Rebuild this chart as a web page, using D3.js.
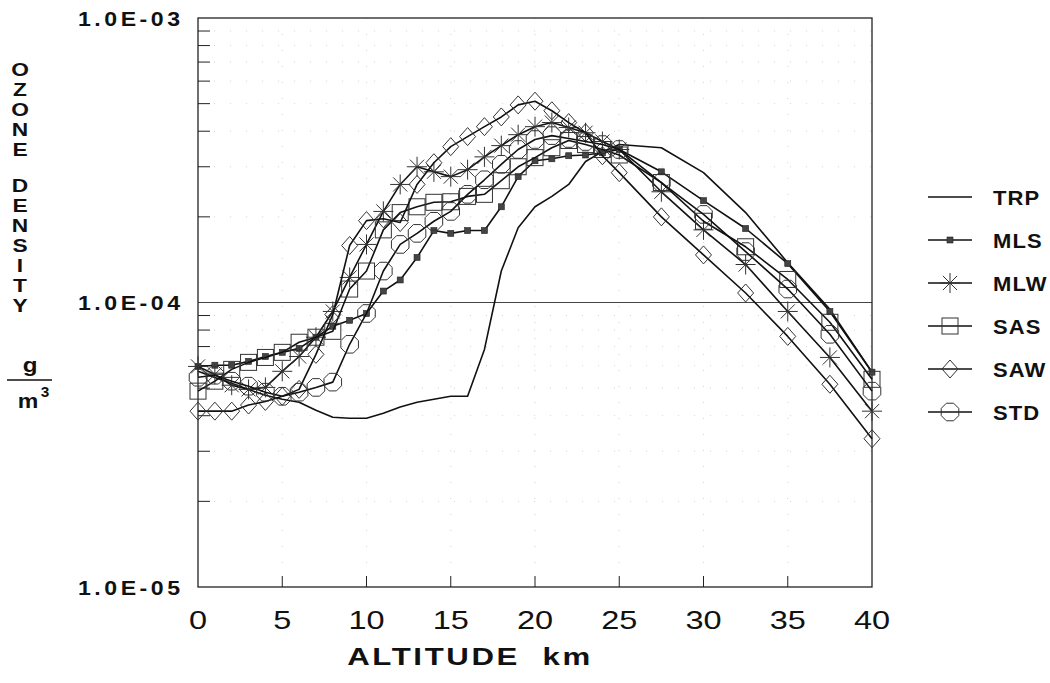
<!DOCTYPE html>
<html>
<head>
<script src="https://d3js.org/d3.v7.min.js"></script>
<style>
  body { margin: 0; background: #fff; }
  text { font-family: "Liberation Sans", Arial, sans-serif; fill: #111; }
</style>
</head>
<body>
<svg id="chart" width="1050" height="683"></svg>
<script>
// altitude grid (km) shared by every profile
const altitude = [0,1,2,3,4,5,6,7,8,9,10,11,12,13,14,15,16,17,18,19,20,21,22,23,24,25,27.5,30,32.5,35,37.5,40];

// ozone density, g/m3
const trp = [5.73e-5,5.45e-5,5.2e-5,4.95e-5,4.72e-5,4.57e-5,4.46e-5,4.18e-5,3.95e-5,3.92e-5,3.92e-5,4.08e-5,4.29e-5,4.46e-5,4.57e-5,4.68e-5,4.68e-5,6.84e-5,1.29e-4,1.83e-4,2.17e-4,2.36e-4,2.6e-4,3.13e-4,3.39e-4,3.59e-4,3.5e-4,2.86e-4,2.07e-4,1.38e-4,9.46e-5,5.69e-5];
const mls = [5.96e-5,6.02e-5,6.02e-5,6.21e-5,6.46e-5,6.68e-5,6.9e-5,7.55e-5,8.25e-5,8.66e-5,9.15e-5,1.097e-4,1.2e-4,1.44e-4,1.79e-4,1.75e-4,1.79e-4,1.79e-4,2.17e-4,2.77e-4,3.15e-4,3.2e-4,3.28e-4,3.3e-4,3.36e-4,3.45e-4,2.88e-4,2.28e-4,1.82e-4,1.37e-4,9.3e-5,5.69e-5];
const mlw = [5.96e-5,5.59e-5,5.12e-5,4.95e-5,5.03e-5,5.73e-5,6.46e-5,7.55e-5,9.3e-5,1.225e-4,1.6e-4,2.09e-4,2.6e-4,3.0e-4,2.88e-4,2.77e-4,2.93e-4,3.25e-4,3.56e-4,3.89e-4,4.15e-4,4.29e-4,4.12e-4,3.95e-4,3.68e-4,3.45e-4,2.45e-4,1.8e-4,1.36e-4,9.3e-5,6.41e-5,4.15e-5];
const sas = [4.88e-5,5.29e-5,5.82e-5,6.16e-5,6.41e-5,6.68e-5,7.25e-5,7.55e-5,7.92e-5,1.115e-4,1.29e-4,1.8e-4,2.07e-4,2.17e-4,2.25e-4,2.26e-4,2.36e-4,2.4e-4,2.68e-4,3.0e-4,3.23e-4,3.5e-4,3.71e-4,3.59e-4,3.45e-4,3.3e-4,2.64e-4,1.93e-4,1.57e-4,1.205e-4,8.52e-5,5.37e-5];
const saw = [4.15e-5,4.15e-5,4.15e-5,4.36e-5,4.49e-5,4.68e-5,4.95e-5,6.57e-5,9.07e-5,1.586e-4,1.94e-4,1.97e-4,1.91e-4,2.6e-4,3.1e-4,3.53e-4,3.83e-4,4.15e-4,4.49e-4,4.95e-4,5.1e-4,4.72e-4,4.29e-4,3.95e-4,3.28e-4,2.86e-4,2.0e-4,1.47e-4,1.08e-4,7.6e-5,5.16e-5,3.32e-5];
const std = [5.46e-5,5.55e-5,5.29e-5,5.08e-5,4.84e-5,4.68e-5,4.84e-5,5.03e-5,5.25e-5,7.13e-5,9.15e-5,1.29e-4,1.6e-4,1.75e-4,1.93e-4,2.09e-4,2.4e-4,2.7e-4,3.06e-4,3.45e-4,3.74e-4,3.86e-4,3.77e-4,3.68e-4,3.59e-4,3.45e-4,2.64e-4,2.04e-4,1.51e-4,1.115e-4,7.73e-5,4.88e-5];

const seriesNames = ["TRP", "MLS", "MLW", "SAS", "SAW", "STD"];
const seriesMarkers = ["none", "dot", "star", "square", "diamond", "octagon"];
const seriesValues = [trp, mls, mlw, sas, saw, std];

const xTicks = [0, 5, 10, 15, 20, 25, 30, 35, 40];
const yTicks = [1e-5, 1e-4, 1e-3];
const yTickLabels = ["1.0E-05", "1.0E-04", "1.0E-03"];

const svg = d3.select("#chart");
const plotLeft = 198, plotRight = 872, plotTop = 18, plotBottom = 587;

const x = d3.scaleLinear().domain([0, 40]).range([plotLeft, plotRight]);
const y = d3.scaleLog().domain([1e-5, 1e-3]).range([plotBottom, plotTop]);

// faint dotted grid
const minor = [];
[1e-5, 1e-4].forEach(d => { for (let k = 2; k <= 9; k++) minor.push(d * k); });
svg.append("g").selectAll("line").data(minor).join("line")
  .attr("x1", plotLeft).attr("x2", plotRight)
  .attr("y1", d => y(d)).attr("y2", d => y(d))
  .attr("stroke", "#d4d4d4").attr("stroke-width", 1)
  .attr("stroke-dasharray", "1,15");
svg.append("g").selectAll("line").data(xTicks.slice(1, -1)).join("line")
  .attr("x1", d => x(d)).attr("x2", d => x(d))
  .attr("y1", plotTop).attr("y2", plotBottom)
  .attr("stroke", "#d4d4d4").attr("stroke-width", 1)
  .attr("stroke-dasharray", "1,15");

// 1E-04 reference line
svg.append("line")
  .attr("x1", plotLeft).attr("x2", plotRight)
  .attr("y1", y(1e-4)).attr("y2", y(1e-4))
  .attr("stroke", "#444").attr("stroke-width", 1.2);

// frame
svg.append("rect")
  .attr("x", plotLeft).attr("y", plotTop)
  .attr("width", plotRight - plotLeft).attr("height", plotBottom - plotTop)
  .attr("fill", "none").attr("stroke", "#222").attr("stroke-width", 1.3);

// left minor ticks, bottom ticks
svg.append("g").selectAll("line").data(minor).join("line")
  .attr("x1", plotLeft).attr("x2", plotLeft + 12)
  .attr("y1", d => y(d)).attr("y2", d => y(d))
  .attr("stroke", "#222").attr("stroke-width", 1);
svg.append("g").selectAll("line").data(xTicks.slice(1, -1)).join("line")
  .attr("x1", d => x(d)).attr("x2", d => x(d))
  .attr("y1", plotBottom).attr("y2", plotBottom - 11)
  .attr("stroke", "#222").attr("stroke-width", 1);

function stretched(str, px, py, size, sx, anchor, weight) {
  return svg.append("text")
    .attr("transform", `translate(${px},${py}) scale(${sx},1)`)
    .attr("text-anchor", anchor || "middle")
    .attr("font-size", size)
    .attr("font-weight", weight || "normal")
    .text(str);
}

// tick labels
xTicks.forEach(d => stretched(String(d), x(d), 629, 25, 1.3, "middle"));
yTicks.forEach((d, i) => {
  stretched(yTickLabels[i], 78, y(d) + 7.5, 21, 1.1, "start", "bold")
    .attr("letter-spacing", 3.2);
});

// axis titles
stretched("ALTITUDE  km", 470, 665, 24, 1.3, "middle", "bold").attr("letter-spacing", 2).style("white-space", "pre");
const titleLetters = "OZONE DENSITY".split("");
let ty = 76;
titleLetters.forEach(c => {
  if (c === " ") { ty += 16; return; }
  stretched(c, 20, ty, 17.5, 1.3, "middle", "bold");
  ty += 20;
});
stretched("g", 30, 372, 21, 1.15, "middle", "bold");
svg.append("line").attr("x1", 7).attr("x2", 52).attr("y1", 380).attr("y2", 380)
  .attr("stroke", "#111").attr("stroke-width", 1.6);
stretched("m", 28, 408, 21, 1.1, "middle", "bold");
stretched("3", 45, 397, 14, 1.1, "middle", "bold");

// marker shapes
function marker(g, type, cx, cy) {
  const s = "#333";
  if (type === "dot") {
    g.append("rect").attr("x", cx - 3).attr("y", cy - 3).attr("width", 6).attr("height", 6)
      .attr("fill", "#444").attr("stroke", "#222").attr("stroke-width", 0.6);
  } else if (type === "star") {
    const r = 10;
    [0, 45, 90, 135].forEach(a => {
      const t = a * Math.PI / 180;
      g.append("line")
        .attr("x1", cx - r * Math.cos(t)).attr("y1", cy - r * Math.sin(t))
        .attr("x2", cx + r * Math.cos(t)).attr("y2", cy + r * Math.sin(t))
        .attr("stroke", s).attr("stroke-width", 1);
    });
  } else if (type === "square") {
    g.append("rect").attr("x", cx - 8).attr("y", cy - 8).attr("width", 16).attr("height", 16)
      .attr("fill", "none").attr("stroke", s).attr("stroke-width", 1);
  } else if (type === "diamond") {
    g.append("path").attr("d", `M${cx},${cy - 9}L${cx + 8},${cy}L${cx},${cy + 9}L${cx - 8},${cy}Z`)
      .attr("fill", "none").attr("stroke", s).attr("stroke-width", 1);
  } else if (type === "octagon") {
    const pts = d3.range(8).map(i => {
      const t = (i * 45 + 22.5) * Math.PI / 180;
      return [cx + 9.5 * Math.cos(t), cy + 9.5 * Math.sin(t)];
    });
    g.append("path").attr("d", "M" + pts.join("L") + "Z")
      .attr("fill", "none").attr("stroke", s).attr("stroke-width", 1);
  }
}

const line = d3.line().x(d => x(d[0])).y(d => y(d[1]));
const plot = svg.append("g");
seriesValues.forEach((vals, i) => {
  const pts = altitude.map((a, j) => [a, vals[j]]);
  const g = plot.append("g");
  g.append("path").attr("d", line(pts))
    .attr("fill", "none").attr("stroke", "#111").attr("stroke-width", 1.6)
    .attr("stroke-linejoin", "round");
  pts.forEach(p => marker(g, seriesMarkers[i], x(p[0]), y(p[1])));
});

// legend
seriesNames.forEach((name, i) => {
  const ly = 197 + i * 43;
  const g = svg.append("g");
  g.append("line").attr("x1", 928).attr("x2", 972).attr("y1", ly).attr("y2", ly)
    .attr("stroke", "#111").attr("stroke-width", 1.6);
  marker(g, seriesMarkers[i], 950, ly);
  stretched(name, 993, ly + 7.5, 20, 1.1, "start", "bold").attr("letter-spacing", 1);
});
</script>
</body>
</html>
